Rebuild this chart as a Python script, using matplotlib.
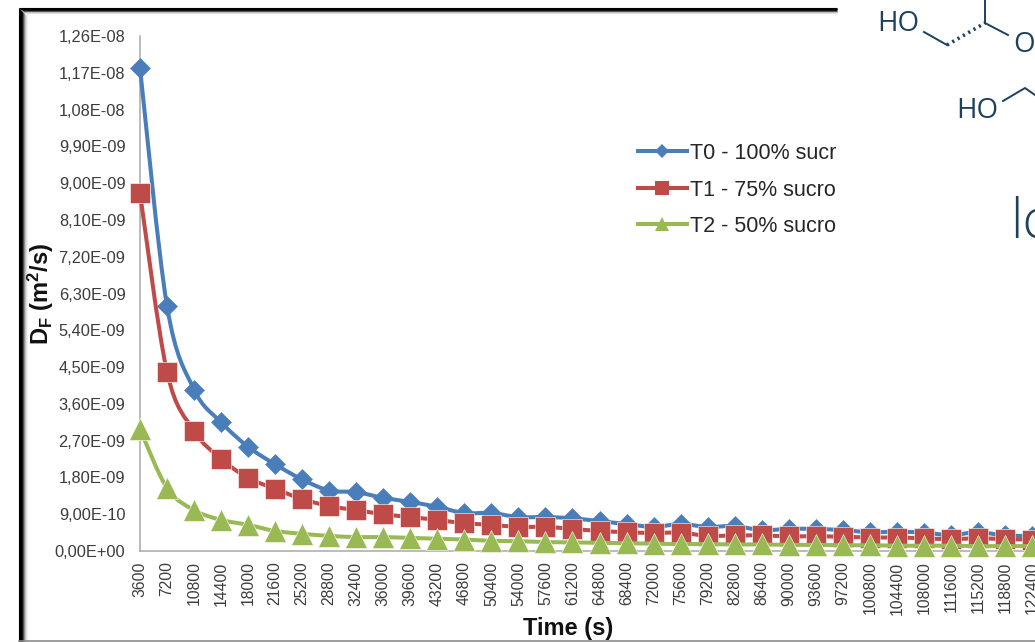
import numpy as np
import matplotlib
matplotlib.use("Agg")
import matplotlib.pyplot as plt
from matplotlib.lines import Line2D
from matplotlib.path import Path
from matplotlib.patches import PathPatch

plt.rcParams["font.family"] = "Liberation Sans"
plt.rcParams["mathtext.fontset"] = "custom"
plt.rcParams["mathtext.bf"] = "Liberation Sans:bold"
plt.rcParams["mathtext.rm"] = "Liberation Sans:bold"

time_s = [3600, 7200, 10800, 14400, 18000, 21600, 25200, 28800, 32400, 36000, 39600, 43200,
          46800, 50400, 54000, 57600, 61200, 64800, 68400, 72000, 75600, 79200, 82800, 86400,
          90000, 93600, 97200, 100800, 104400, 108000, 111600, 115200, 118800, 122400]

# values in 1e-9 m2/s
t0 = [11.82, 5.99, 3.95, 3.15, 2.55, 2.12, 1.75, 1.48, 1.44, 1.30, 1.20, 1.08,
      0.93, 0.93, 0.83, 0.83, 0.80, 0.73, 0.66, 0.59, 0.66, 0.59, 0.61, 0.51,
      0.54, 0.54, 0.51, 0.46, 0.47, 0.45, 0.39, 0.46, 0.38, 0.37]
t1 = [8.75, 4.38, 2.94, 2.25, 1.79, 1.52, 1.27, 1.10, 1.00, 0.90, 0.83, 0.76,
      0.68, 0.64, 0.59, 0.59, 0.54, 0.49, 0.46, 0.44, 0.45, 0.37, 0.38, 0.38,
      0.36, 0.36, 0.35, 0.33, 0.33, 0.31, 0.29, 0.31, 0.29, 0.28]
t2 = [2.98, 1.54, 1.00, 0.76, 0.64, 0.49, 0.42, 0.37, 0.34, 0.34, 0.32, 0.30,
      0.28, 0.25, 0.24, 0.22, 0.21, 0.20, 0.19, 0.18, 0.17, 0.17, 0.16, 0.16,
      0.15, 0.15, 0.14, 0.14, 0.13, 0.13, 0.13, 0.12, 0.12, 0.12]

y_ticks = [0.0, 0.9, 1.8, 2.7, 3.6, 4.5, 5.4, 6.3, 7.2, 8.1, 9.0, 9.9, 10.8, 11.7, 12.6]
y_labels = ["0,00E+00", "9,00E-10", "1,80E-09", "2,70E-09", "3,60E-09", "4,50E-09", "5,40E-09",
            "6,30E-09", "7,20E-09", "8,10E-09", "9,00E-09", "9,90E-09", "1,08E-08", "1,17E-08",
            "1,26E-08"]

# legend text is cut off in the source picture
labels = ["T0 - 100% sucr", "T1 - 75% sucro", "T2 - 50% sucro"]
colors = ["#4A7EBB", "#BE4B48", "#98B954"]
markers = ["D", "s", "^"]
sizes = [10.5, 14.5, 16.5]
legend_sizes = [7, 10, 10]

W, H = 1035, 642
text_color = "#3c3c3c"
navy = "#1f3f5e"


def smooth_path(x, y):
    # excel style smoothed line, bezier through the points
    x = np.asarray(x, dtype=float)
    y = np.asarray(y, dtype=float)
    verts = [(x[0], y[0])]
    codes = [Path.MOVETO]
    for i in range(len(x) - 1):
        a = max(i - 1, 0)
        b = min(i + 2, len(x) - 1)
        verts.append((x[i] + (x[i + 1] - x[a]) / 6, y[i] + (y[i + 1] - y[a]) / 6))
        verts.append((x[i + 1] - (x[b] - x[i]) / 6, y[i + 1] - (y[b] - y[i]) / 6))
        verts.append((x[i + 1], y[i + 1]))
        codes += [Path.CURVE4] * 3
    return Path(verts, codes)


fig = plt.figure(figsize=(W / 100, H / 100), dpi=100, facecolor="white")

# picture frame and the pasted molecule, in pixel coordinates
bg = fig.add_axes([0, 0, 1, 1], zorder=0)
bg.set_xlim(0, W)
bg.set_ylim(H, 0)
bg.axis("off")
frame_shades = ["0.0", "0.0", "0.0", "0.05", "0.3", "0.55", "0.75", "0.87", "0.94", "0.98"]
for i, shade in enumerate(frame_shades):
    bg.plot([19 + i, 19 + i], [8 + i, H], color=shade, lw=0.8, solid_capstyle="butt")
    bg.plot([19 + i, 837], [8 + i * 0.7, 8 + i * 0.7], color=shade, lw=0.8, solid_capstyle="butt")
bg.plot([19, W], [640.5, 640.5], color="#8c8c8c", lw=1.2)

bg.text(877, 24, "HO", color=navy, fontsize=20, family="Open Sans", va="center", ha="left")
bg.text(956, 111, "HO", color=navy, fontsize=20, family="Open Sans", va="center", ha="left")
bg.text(1013, 45, "O", color=navy, fontsize=20, family="Open Sans", va="center", ha="left", clip_on=True)
bg.plot([924, 947], [32, 45], color=navy, lw=1.4)
bg.plot([947, 985], [45, 23], color=navy, lw=2.6, ls=(0, (0.6, 1.1)))
bg.plot([985, 985], [0, 23], color=navy, lw=1.4)
bg.plot([985, 1008], [23, 35], color=navy, lw=1.4)
bg.plot([1003, 1025, 1035], [101, 88, 95], color=navy, lw=1.4)
bg.text(1010, 238, "lc", color=navy, fontsize=40, family="Open Sans", va="baseline", ha="left",
        fontweight="light", clip_on=True)

ax = fig.add_axes([140 / W, (H - 551) / H, (W - 140) / W, 515 / H], zorder=1)
ax.patch.set_alpha(0)

pos = np.arange(len(time_s))
series = [t0, t1, t2]
for k, vals in enumerate(series):
    yvals = np.array(vals) * 1e-9
    ax.add_patch(PathPatch(smooth_path(pos, yvals), fc="none", ec=colors[k], lw=2.9, zorder=3 + k,
                           clip_on=False, capstyle="round"))
    ax.plot(pos, yvals, ls="none", marker=markers[k], ms=sizes[k], color=colors[k], mew=0.4,
            mec="#ffffff" if k else colors[k], zorder=3 + k, clip_on=False)

ax.set_xlim(0, (W - 140) / 27.03)
ax.set_ylim(0, 12.6e-9)
ax.set_xticks(pos)
ax.set_xticklabels([str(t) for t in time_s], rotation=90, va="top", ha="center")
ax.set_yticks(np.array(y_ticks) * 1e-9)
ax.set_yticklabels(y_labels)
ax.tick_params(axis="x", length=0, pad=7.5, labelsize=11.3, labelcolor=text_color)
ax.tick_params(axis="y", length=0, pad=10.5, labelsize=11.8, labelcolor=text_color)
for side in ["top", "right"]:
    ax.spines[side].set_visible(False)
for side in ["left", "bottom"]:
    ax.spines[side].set_color("#a8a8a8")
    ax.spines[side].set_linewidth(1.1)

handles = [Line2D([0], [0], color=colors[k], lw=2.9, marker=markers[k], ms=legend_sizes[k],
                  mew=0) for k in range(3)]
fig.legend(handles, labels, loc="upper left", bbox_to_anchor=(638 / W, 1 - 143 / H),
           frameon=False, fontsize=15.5, handlelength=2.27, handletextpad=0.13, labelspacing=0.72,
           borderpad=0, borderaxespad=0, labelcolor="#262626")

fig.text(568 / W, 1 - 628 / H, "Time (s)", fontsize=17, fontweight="bold", ha="center", va="center",
         color="#111111")
fig.text(41 / W, 1 - 294 / H, r"$\mathbf{D_F}$ $\mathbf{(m^2/s)}$", fontsize=17, rotation=90,
         ha="center", va="center", color="#111111")

fig.savefig("out.png", dpi=100)
